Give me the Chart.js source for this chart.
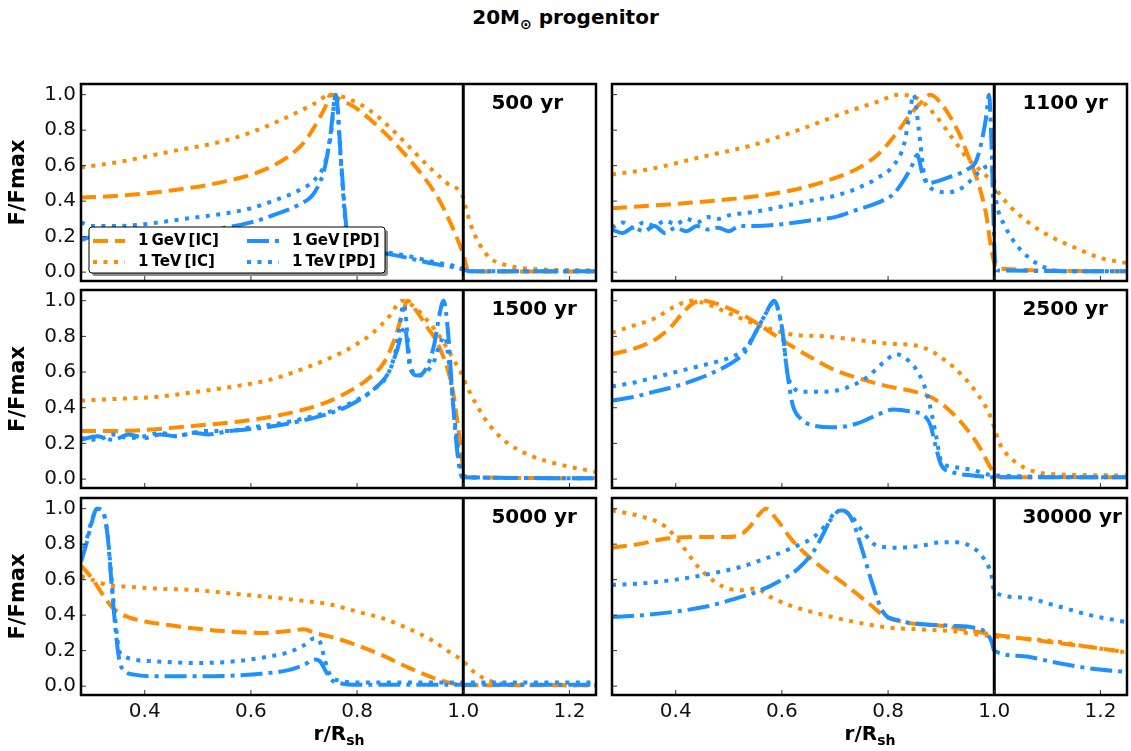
<!DOCTYPE html>
<html>
<head>
<meta charset="utf-8">
<script src="https://cdn.jsdelivr.net/npm/chart.js@4.4.0/dist/chart.umd.min.js"></script>
<style>
body { margin: 0; background: #fff; }
#fig { position: relative; width: 1131px; height: 751px; font-family: 'DejaVu Sans', sans-serif; color: #000; }
#fig canvas { position: absolute; }
.titol { position: absolute; left: 0; top: 5px; width: 1131px; text-align: center; font-weight: bold; font-size: 20px; }
.xlab { position: absolute; top: 721px; width: 300px; text-align: center; font-weight: bold; font-size: 20px; }
sub { font-size: 14px; }
</style>
</head>
<body>
<div id="fig">
  <div class="titol">20M<sub>&#8857;</sub> progenitor</div>
  <canvas id="p500" width="600" height="205" style="left:0px;top:80px"></canvas>
  <canvas id="p1100" width="525" height="205" style="left:606px;top:80px"></canvas>
  <canvas id="p1500" width="600" height="206" style="left:0px;top:286px"></canvas>
  <canvas id="p2500" width="525" height="206" style="left:606px;top:286px"></canvas>
  <canvas id="p5000" width="600" height="231" style="left:0px;top:494px"></canvas>
  <canvas id="p30000" width="525" height="231" style="left:606px;top:494px"></canvas>
  <div class="xlab" style="left:189px">r/R<sub>sh</sub></div>
  <div class="xlab" style="left:720px">r/R<sub>sh</sub></div>
</div>
<script>
var xTicks = [0.4, 0.6, 0.8, 1.0, 1.2];
var yTicks = [0, 0.2, 0.4, 0.6, 0.8, 1.0];
var noms = ["1\u2009GeV\u2009[IC]", "1\u2009TeV\u2009[IC]", "1\u2009GeV\u2009[PD]", "1\u2009TeV\u2009[PD]"];

// 500 yr
var r500_GeVIC = [0.28,0.35,0.45,0.55,0.62,0.67,0.70,0.72,0.74,0.75,0.77,0.80,0.85,0.90,0.95,0.98,1.0,1.01,1.1,1.25];
var f500_GeVIC = [0.42,0.43,0.46,0.51,0.57,0.65,0.73,0.82,0.93,1.0,0.97,0.92,0.79,0.63,0.43,0.25,0.1,0.005,0.003,0.003];
var r500_TeVIC = [0.28,0.35,0.45,0.55,0.62,0.68,0.72,0.75,0.78,0.82,0.86,0.90,0.94,0.97,1.0,1.005,1.015,1.03,1.05,1.08,1.12,1.25];
var f500_TeVIC = [0.59,0.62,0.68,0.74,0.81,0.89,0.95,1.0,0.98,0.92,0.82,0.7,0.58,0.5,0.42,0.36,0.26,0.16,0.08,0.04,0.02,0.01];
var r500_GeVPD = [0.28,0.30,0.35,0.40,0.45,0.50,0.55,0.60,0.65,0.69,0.72,0.74,0.75,0.76,0.77,0.78,0.79,0.82,0.88,0.94,1.0,1.01,1.25];
var f500_GeVPD = [0.18,0.20,0.21,0.21,0.22,0.23,0.25,0.28,0.33,0.38,0.45,0.6,0.78,1.0,0.62,0.25,0.14,0.12,0.09,0.05,0.015,0.005,0.005];
var r500_TeVPD = [0.28,0.30,0.35,0.40,0.45,0.50,0.55,0.60,0.65,0.69,0.72,0.74,0.75,0.76,0.77,0.78,0.79,0.82,0.88,0.94,1.0,1.01,1.25];
var f500_TeVPD = [0.28,0.26,0.26,0.27,0.29,0.31,0.33,0.36,0.41,0.46,0.52,0.62,0.76,1.0,0.6,0.22,0.13,0.12,0.1,0.06,0.02,0.005,0.005];

// 1100 yr
var r1100_GeVIC = [0.28,0.38,0.50,0.60,0.68,0.74,0.78,0.81,0.84,0.86,0.88,0.90,0.92,0.94,0.95,0.97,0.985,0.995,1.005,1.25];
var f1100_GeVIC = [0.36,0.38,0.41,0.45,0.51,0.58,0.66,0.76,0.88,0.95,1.0,0.95,0.86,0.74,0.66,0.5,0.32,0.12,0.02,0.005];
var r1100_TeVIC = [0.28,0.35,0.45,0.55,0.64,0.72,0.78,0.82,0.86,0.89,0.92,0.95,0.975,0.995,1.01,1.03,1.06,1.1,1.15,1.2,1.25];
var f1100_TeVIC = [0.55,0.58,0.65,0.72,0.81,0.9,0.96,1.0,0.97,0.88,0.76,0.64,0.57,0.51,0.44,0.37,0.29,0.21,0.14,0.08,0.05];
var r1100_GeVPD = [0.28,0.30,0.32,0.34,0.36,0.38,0.40,0.42,0.44,0.46,0.48,0.50,0.52,0.55,0.60,0.65,0.70,0.74,0.78,0.81,0.83,0.845,0.855,0.865,0.875,0.89,0.91,0.93,0.95,0.965,0.975,0.985,0.99,0.995,1.0,1.005,1.25];
var f1100_GeVPD = [0.24,0.22,0.25,0.23,0.26,0.22,0.25,0.23,0.26,0.24,0.25,0.23,0.26,0.26,0.27,0.29,0.31,0.35,0.39,0.44,0.52,0.6,0.66,0.55,0.5,0.51,0.53,0.55,0.58,0.62,0.72,0.88,1.0,0.7,0.15,0.01,0.005];
var r1100_TeVPD = [0.28,0.30,0.32,0.34,0.36,0.38,0.40,0.42,0.44,0.46,0.48,0.50,0.55,0.60,0.65,0.70,0.74,0.78,0.81,0.83,0.84,0.848,0.858,0.868,0.89,0.91,0.93,0.95,0.97,0.99,0.998,1.005,1.02,1.04,1.07,1.1,1.13,1.25];
var f1100_TeVPD = [0.25,0.28,0.25,0.28,0.26,0.29,0.27,0.3,0.28,0.31,0.3,0.32,0.34,0.37,0.4,0.43,0.47,0.53,0.6,0.72,0.88,1.0,0.8,0.55,0.46,0.45,0.46,0.5,0.56,0.6,0.55,0.38,0.26,0.16,0.07,0.02,0.005,0.005];

// 1500 yr
var r1500_GeVIC = [0.28,0.35,0.42,0.50,0.57,0.64,0.70,0.75,0.79,0.82,0.85,0.87,0.885,0.895,0.91,0.93,0.95,0.97,0.98,0.99,0.998,1.005,1.25];
var f1500_GeVIC = [0.27,0.27,0.28,0.3,0.32,0.35,0.39,0.44,0.5,0.56,0.65,0.78,0.92,1.0,0.95,0.86,0.77,0.62,0.5,0.3,0.1,0.01,0.005];
var r1500_TeVIC = [0.28,0.35,0.42,0.50,0.57,0.64,0.70,0.75,0.79,0.83,0.86,0.885,0.91,0.935,0.96,0.98,0.995,1.01,1.03,1.05,1.08,1.12,1.17,1.25];
var f1500_TeVIC = [0.44,0.45,0.46,0.49,0.52,0.56,0.62,0.68,0.74,0.82,0.91,1.0,0.96,0.88,0.78,0.68,0.6,0.5,0.39,0.3,0.21,0.14,0.09,0.04];
var r1500_GeVPD = [0.28,0.31,0.34,0.37,0.40,0.43,0.46,0.49,0.52,0.56,0.60,0.65,0.70,0.75,0.79,0.83,0.86,0.875,0.89,0.9,0.915,0.93,0.945,0.955,0.963,0.972,0.98,0.99,0.998,1.25];
var f1500_GeVPD = [0.22,0.24,0.22,0.25,0.23,0.25,0.24,0.26,0.25,0.27,0.28,0.3,0.33,0.37,0.42,0.5,0.6,0.72,0.85,0.62,0.58,0.62,0.75,0.92,1.0,0.8,0.45,0.12,0.01,0.005];
var r1500_TeVPD = [0.28,0.31,0.34,0.37,0.40,0.43,0.46,0.49,0.52,0.56,0.60,0.65,0.70,0.75,0.79,0.83,0.86,0.875,0.888,0.9,0.915,0.93,0.945,0.955,0.965,0.975,0.985,0.995,1.003,1.25];
var f1500_TeVPD = [0.23,0.22,0.25,0.23,0.24,0.26,0.24,0.26,0.27,0.27,0.29,0.31,0.34,0.38,0.43,0.5,0.6,0.75,0.98,0.65,0.58,0.6,0.66,0.75,0.8,0.6,0.3,0.08,0.01,0.005];

// 2500 yr
var r2500_GeVIC = [0.28,0.32,0.36,0.39,0.41,0.43,0.45,0.48,0.52,0.56,0.60,0.65,0.70,0.75,0.80,0.85,0.88,0.91,0.94,0.97,0.99,1.0,1.01,1.25];
var f2500_GeVIC = [0.7,0.73,0.78,0.85,0.92,0.98,1.0,0.98,0.93,0.86,0.78,0.69,0.61,0.56,0.52,0.49,0.46,0.4,0.31,0.19,0.08,0.03,0.01,0.01];
var r2500_TeVIC = [0.28,0.32,0.36,0.40,0.43,0.46,0.50,0.54,0.58,0.62,0.68,0.74,0.80,0.85,0.88,0.91,0.94,0.97,0.99,1.0,1.01,1.03,1.06,1.1,1.25];
var f2500_TeVIC = [0.82,0.86,0.9,0.97,1.0,0.98,0.93,0.88,0.84,0.81,0.8,0.78,0.76,0.75,0.72,0.66,0.58,0.47,0.37,0.29,0.2,0.12,0.06,0.03,0.02];
var r2500_GeVPD = [0.28,0.32,0.36,0.40,0.44,0.48,0.51,0.53,0.55,0.57,0.585,0.60,0.61,0.62,0.635,0.66,0.70,0.74,0.78,0.81,0.84,0.87,0.88,0.89,0.9,0.92,0.96,1.0,1.25];
var f2500_GeVPD = [0.44,0.46,0.49,0.52,0.56,0.61,0.66,0.71,0.82,0.93,1.0,0.85,0.6,0.42,0.34,0.3,0.29,0.31,0.36,0.39,0.38,0.35,0.3,0.18,0.08,0.04,0.02,0.01,0.01];
var r2500_TeVPD = [0.28,0.32,0.36,0.40,0.44,0.48,0.51,0.53,0.55,0.57,0.585,0.60,0.61,0.62,0.64,0.68,0.72,0.76,0.79,0.815,0.84,0.86,0.875,0.89,0.9,0.92,0.96,1.0,1.25];
var f2500_TeVPD = [0.52,0.54,0.57,0.6,0.63,0.66,0.69,0.73,0.82,0.93,0.99,0.85,0.6,0.52,0.49,0.49,0.51,0.57,0.65,0.7,0.66,0.58,0.46,0.25,0.1,0.07,0.05,0.02,0.01];

// 5000 yr
var r5000_GeVIC = [0.28,0.30,0.32,0.34,0.36,0.39,0.43,0.48,0.55,0.62,0.67,0.70,0.72,0.76,0.80,0.85,0.90,0.95,0.98,1.0,1.25];
var f5000_GeVIC = [0.68,0.61,0.52,0.44,0.4,0.37,0.35,0.33,0.31,0.3,0.31,0.32,0.3,0.27,0.23,0.17,0.1,0.04,0.015,0.005,0.005];
var r5000_TeVIC = [0.28,0.30,0.33,0.37,0.42,0.50,0.57,0.64,0.70,0.75,0.80,0.85,0.90,0.94,0.97,1.0,1.02,1.05,1.1,1.25];
var f5000_TeVIC = [0.62,0.6,0.57,0.56,0.55,0.54,0.52,0.5,0.48,0.46,0.42,0.38,0.32,0.26,0.2,0.14,0.08,0.03,0.01,0.005];
var r5000_GeVPD = [0.28,0.29,0.30,0.31,0.32,0.33,0.337,0.345,0.352,0.36,0.38,0.42,0.5,0.57,0.62,0.67,0.70,0.72,0.73,0.74,0.75,0.77,0.80,1.0,1.25];
var f5000_GeVPD = [0.7,0.8,0.92,1.0,0.99,0.85,0.6,0.32,0.15,0.09,0.065,0.055,0.055,0.06,0.07,0.09,0.12,0.15,0.14,0.09,0.04,0.015,0.008,0.008,0.008];
var r5000_TeVPD = [0.28,0.29,0.30,0.31,0.32,0.33,0.337,0.345,0.352,0.36,0.38,0.42,0.5,0.57,0.62,0.67,0.70,0.72,0.73,0.74,0.75,0.77,0.80,1.0,1.25];
var f5000_TeVPD = [0.72,0.82,0.93,1.0,0.99,0.86,0.62,0.36,0.2,0.17,0.15,0.14,0.13,0.14,0.16,0.19,0.23,0.27,0.25,0.14,0.06,0.03,0.02,0.02,0.02];

// 30000 yr
var r30000_GeVIC = [0.28,0.33,0.38,0.43,0.49,0.52,0.54,0.555,0.57,0.59,0.62,0.67,0.72,0.77,0.79,0.83,0.9,0.96,1.0,1.05,1.1,1.18,1.25];
var f30000_GeVIC = [0.78,0.8,0.83,0.84,0.84,0.85,0.9,0.96,1.0,0.94,0.82,0.68,0.57,0.45,0.4,0.36,0.34,0.31,0.29,0.27,0.25,0.22,0.19];
var r30000_TeVIC = [0.28,0.33,0.38,0.41,0.44,0.46,0.49,0.52,0.55,0.58,0.62,0.68,0.74,0.8,0.86,0.92,0.97,1.0,1.05,1.12,1.18,1.25];
var f30000_TeVIC = [0.99,0.96,0.9,0.8,0.68,0.62,0.56,0.54,0.55,0.5,0.45,0.4,0.36,0.33,0.32,0.31,0.29,0.28,0.27,0.25,0.22,0.19];
var r30000_GeVPD = [0.28,0.34,0.40,0.46,0.52,0.56,0.60,0.63,0.66,0.68,0.70,0.715,0.73,0.75,0.77,0.79,0.82,0.86,0.92,0.96,0.985,0.995,1.0,1.05,1.12,1.18,1.25];
var f30000_GeVPD = [0.39,0.4,0.42,0.45,0.5,0.54,0.6,0.66,0.76,0.87,0.98,0.99,0.95,0.78,0.58,0.42,0.37,0.35,0.34,0.33,0.3,0.25,0.2,0.17,0.13,0.1,0.08];
var r30000_TeVPD = [0.28,0.34,0.40,0.46,0.52,0.57,0.62,0.66,0.69,0.71,0.73,0.75,0.78,0.82,0.86,0.9,0.93,0.96,0.98,0.995,1.0,1.05,1.12,1.18,1.25];
var f30000_TeVPD = [0.57,0.58,0.6,0.63,0.67,0.72,0.78,0.84,0.93,0.99,0.96,0.88,0.79,0.78,0.79,0.81,0.81,0.78,0.72,0.62,0.53,0.5,0.45,0.4,0.36];

var taronja = '#ff8c00';
var blau = '#1e90ff';
var estils = [
    { color: taronja, dash: [15, 7], ordre: 4 },
    { color: taronja, dash: [4, 6.5], ordre: 3 },
    { color: blau, dash: [22, 6, 4, 6], ordre: 2 },
    { color: blau, dash: [4, 6.5], ordre: 1 }
];

var panells = [
    { id: 'p500', text: '500 yr', yW: 81, xH: 4, ylab: true, xlab: false, llegenda: true,
      series: [[r500_GeVIC, f500_GeVIC], [r500_TeVIC, f500_TeVIC], [r500_GeVPD, f500_GeVPD], [r500_TeVPD, f500_TeVPD]] },
    { id: 'p1100', text: '1100 yr', yW: 6, xH: 4, ylab: false, xlab: false,
      series: [[r1100_GeVIC, f1100_GeVIC], [r1100_TeVIC, f1100_TeVIC], [r1100_GeVPD, f1100_GeVPD], [r1100_TeVPD, f1100_TeVPD]] },
    { id: 'p1500', text: '1500 yr', yW: 81, xH: 4, ylab: true, xlab: false,
      series: [[r1500_GeVIC, f1500_GeVIC], [r1500_TeVIC, f1500_TeVIC], [r1500_GeVPD, f1500_GeVPD], [r1500_TeVPD, f1500_TeVPD]] },
    { id: 'p2500', text: '2500 yr', yW: 6, xH: 4, ylab: false, xlab: false,
      series: [[r2500_GeVIC, f2500_GeVIC], [r2500_TeVIC, f2500_TeVIC], [r2500_GeVPD, f2500_GeVPD], [r2500_TeVPD, f2500_TeVPD]] },
    { id: 'p5000', text: '5000 yr', yW: 81, xH: 30, ylab: true, xlab: true,
      series: [[r5000_GeVIC, f5000_GeVIC], [r5000_TeVIC, f5000_TeVIC], [r5000_GeVPD, f5000_GeVPD], [r5000_TeVPD, f5000_TeVPD]] },
    { id: 'p30000', text: '30000 yr', yW: 6, xH: 30, ylab: false, xlab: true,
      series: [[r30000_GeVIC, f30000_GeVIC], [r30000_TeVIC, f30000_TeVIC], [r30000_GeVPD, f30000_GeVPD], [r30000_TeVPD, f30000_TeVPD]] }
];

function dibuixaLlegenda(ctx, a) {
    var x0 = a.left + 8, y0 = a.top + 143, w = 296, h = 46;
    ctx.fillStyle = 'rgba(0,0,0,0.45)';
    ctx.beginPath(); ctx.roundRect(x0 + 3, y0 + 3, w, h, 3); ctx.fill();
    ctx.fillStyle = '#fff';
    ctx.strokeStyle = '#000';
    ctx.lineWidth = 1;
    ctx.beginPath(); ctx.roundRect(x0, y0, w, h, 3); ctx.fill(); ctx.stroke();
    ctx.font = 'bold 15px "DejaVu Sans"';
    ctx.textBaseline = 'middle';
    for (var i = 0; i < 4; i++) {
        var col = i < 2 ? 0 : 1;
        var fila = i % 2;
        var lx = x0 + 4 + col * 154;
        var ly = y0 + 14 + fila * 21;
        ctx.save();
        ctx.strokeStyle = estils[i].color;
        ctx.lineWidth = 4;
        ctx.setLineDash(estils[i].dash);
        ctx.beginPath(); ctx.moveTo(lx, ly); ctx.lineTo(lx + 32, ly); ctx.stroke();
        ctx.restore();
        ctx.fillStyle = '#000';
        ctx.fillText(noms[i], lx + 45, ly);
    }
}

var marc = {
    id: 'marc',
    afterDatasetsDraw: function (chart, args, opts) {
        var ctx = chart.ctx, a = chart.chartArea;
        var sx = chart.scales.x, sy = chart.scales.y;
        ctx.save();
        // shock radius
        var x1 = sx.getPixelForValue(1.0);
        ctx.strokeStyle = '#000';
        ctx.lineWidth = 3;
        ctx.beginPath(); ctx.moveTo(x1, a.top); ctx.lineTo(x1, a.bottom); ctx.stroke();
        // inward ticks
        ctx.lineWidth = 1;
        ctx.strokeStyle = '#333';
        ctx.beginPath();
        xTicks.forEach(function (v) {
            var px = sx.getPixelForValue(v);
            ctx.moveTo(px, a.bottom); ctx.lineTo(px, a.bottom - 5);
        });
        yTicks.forEach(function (v) {
            var py = sy.getPixelForValue(v);
            ctx.moveTo(a.left, py); ctx.lineTo(a.left + 5, py);
        });
        ctx.stroke();
        ctx.lineWidth = 2.5;
        ctx.strokeStyle = '#000';
        ctx.strokeRect(a.left, a.top, a.right - a.left, a.bottom - a.top);
        ctx.fillStyle = '#000';
        ctx.font = 'bold 20px "DejaVu Sans"';
        ctx.textBaseline = 'middle';
        ctx.fillText(opts.text, a.left + 0.797 * (a.right - a.left), a.top + 20);
        if (opts.llegenda) dibuixaLlegenda(ctx, a);
        ctx.restore();
    }
};

function serie(r, f, estil) {
    var punts = r.map(function (v, i) { return { x: v, y: f[i] }; });
    return {
        data: punts,
        borderColor: estil.color,
        borderDash: estil.dash,
        borderWidth: 4,
        borderCapStyle: 'butt',
        pointRadius: 0,
        fill: false,
        cubicInterpolationMode: 'monotone',
        order: estil.ordre
    };
}

function dibuixaPanell(p) {
    var datasets = p.series.map(function (s, i) { return serie(s[0], s[1], estils[i]); });
    var fontTicks = { family: 'DejaVu Sans', size: 20 };
    new Chart(document.getElementById(p.id), {
        type: 'line',
        data: { datasets: datasets },
        plugins: [marc],
        options: {
            responsive: false,
            animation: false,
            devicePixelRatio: 1,
            layout: { padding: { top: 4, right: 4, left: 0, bottom: 0 } },
            plugins: {
                legend: { display: false },
                tooltip: { enabled: false },
                marc: { text: p.text, llegenda: !!p.llegenda }
            },
            scales: {
                x: {
                    type: 'linear', min: 0.28, max: 1.25,
                    grid: { display: false, drawTicks: false },
                    border: { display: false },
                    ticks: { display: p.xlab, padding: 5, font: fontTicks, color: '#111',
                             callback: function (v) { return v.toFixed(1); } },
                    afterBuildTicks: function (s) { s.ticks = xTicks.map(function (v) { return { value: v }; }); },
                    afterFit: function (s) { s.height = p.xH; s.paddingLeft = 0; s.paddingRight = 0; }
                },
                y: {
                    type: 'linear', min: -0.05, max: 1.06,
                    grid: { display: false, drawTicks: false },
                    border: { display: false },
                    ticks: { display: p.ylab, padding: 5, font: fontTicks, color: '#111',
                             callback: function (v) { return v.toFixed(1); } },
                    title: { display: p.ylab, text: 'F/Fmax', color: '#000',
                             font: { family: 'DejaVu Sans', size: 21, weight: 'bold' }, padding: { top: 6, bottom: 0 } },
                    afterBuildTicks: function (s) { s.ticks = yTicks.map(function (v) { return { value: v }; }); },
                    afterFit: function (s) { s.width = p.yW; s.paddingTop = 0; s.paddingBottom = 0; }
                }
            }
        }
    });
}

panells.forEach(dibuixaPanell);
</script>
</body>
</html>
